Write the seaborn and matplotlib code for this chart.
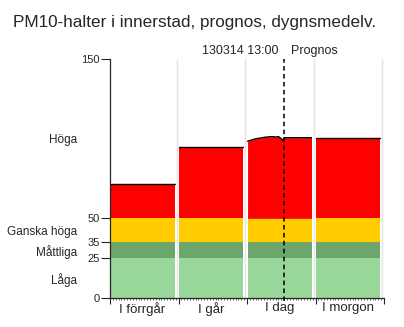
import numpy as np
import matplotlib
matplotlib.use("Agg")
import matplotlib.pyplot as plt
import seaborn as sns
from matplotlib.ticker import FixedLocator, MultipleLocator

# ---- data ----
days = ["I förrgår", "I går", "I dag", "I morgon"]
day_means = [71.5, 95.0, None, 100.6]          # constant daily values (I dag given hourly)
today_hours = [0, 1, 2, 3, 4, 5, 6, 7, 8, 9, 10, 11, 12, 12.5, 13, 24]
today_values = [98.3, 98.8, 99.4, 99.9, 100.2, 100.5, 100.8, 101.0, 101.2,
                101.3, 101.0, 101.3, 100.0, 98.8, 100.6, 100.6]
band_edges = [0, 25, 35, 50]
band_names = ["Låga", "Måttliga", "Ganska höga", "Höga"]
band_label_pos = [11, 29, 41.5, 99]
band_colors = ["#99d699", "#6da66d", "#ffcc00", "#ff0000"]
yticks = [0, 25, 35, 50, 150]
now_hour = 48 + 13
stamp = "130314 13:00"

sns.set_style("ticks")
plt.rcParams['font.family'] = ['Liberation Sans', 'DejaVu Sans']

fig = plt.figure(figsize=(4.04, 3.27), dpi=100)
ax = fig.add_axes([110/404, 1-298/327, 274/404, 239/327])

for i, day in enumerate(days):
    start = i * 24
    x0, x1 = start + 0.2, start + 22.6
    if day_means[i] is None:
        hx = np.array(today_hours, dtype=float) + start
        hy = np.array(today_values, dtype=float)
        xs = np.concatenate([[x0], hx[(hx > x0) & (hx < x1)], [x1]])
        ys = np.interp(xs, hx, hy)
    else:
        xs = np.array([x0, x1])
        ys = np.array([day_means[i], day_means[i]])
    for k in range(3):
        ax.fill_between([x0, x1], band_edges[k], band_edges[k+1],
                        color=band_colors[k], lw=0, antialiased=False)
    ax.fill_between(xs, band_edges[3], ys, color=band_colors[3], lw=0, antialiased=False)
    sns.lineplot(x=xs, y=ys, color="black", lw=1.0, ax=ax, estimator=None, sort=False)

ax.set_xlim(0, 96)
ax.set_ylim(0, 150)

# grid lines between days
for b in [23.3, 47.3, 71.3, 95.3]:
    ax.axvline(b, color="#e4e4e4", lw=1.0, zorder=0)

# now line
ax.plot([now_hour, now_hour], [-1.8, 150], color="black", lw=1.1, ls=(0, (3, 2.2)),
        clip_on=False, zorder=5)

ax.set_yticks(yticks)
ax.set_yticklabels([str(v) for v in yticks], fontsize=8)
ax.tick_params(axis='y', length=6.5, width=0.8, pad=1)

ax.xaxis.set_major_locator(FixedLocator([0, 24, 48, 72, 96]))
ax.xaxis.set_minor_locator(MultipleLocator(1))
ax.set_xticklabels([])
ax.tick_params(axis='x', which='major', length=4, width=0.8)
ax.tick_params(axis='x', which='minor', length=1.5, width=0.5)
for i, day in enumerate(days):
    ax.text(i * 24 + 11.3, -2.5, day, ha='center', va='top', fontsize=9.5)

for name, pos in zip(band_names, band_label_pos):
    ax.text(-11.5, pos, name, ha='right', va='center', fontsize=8.5)

sns.despine(ax=ax)
ax.spines['left'].set_linewidth(0.9)
ax.spines['bottom'].set_linewidth(0.9)
ax.set_xlabel("")
ax.set_ylabel("")

ax.text(now_hour - 2, 151.5, stamp, ha='right', va='bottom', fontsize=9)
ax.text(now_hour + 2.3, 151.5, "Prognos", ha='left', va='bottom', fontsize=9)

fig.text(13/404, 1-22/327, "PM10-halter i innerstad, prognos, dygnsmedelv.",
         ha='left', va='center', fontsize=12.3)

fig.savefig("out.png", dpi=100, facecolor="white")
